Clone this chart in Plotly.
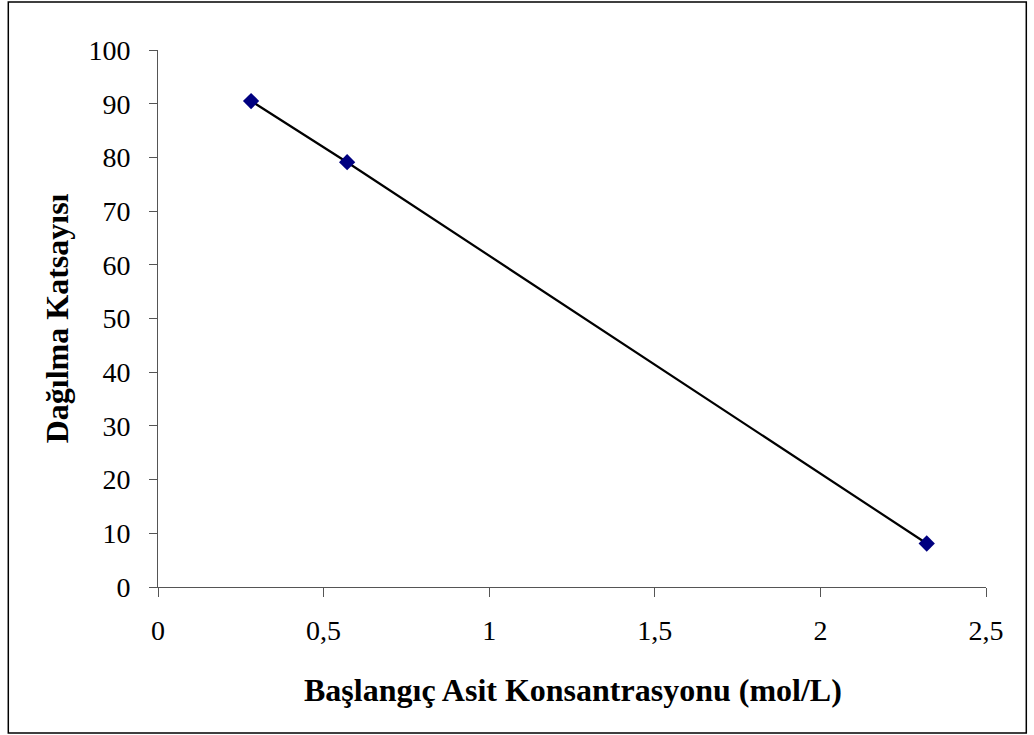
import plotly.graph_objects as go

x_conc = [0.281, 0.571, 2.321]
y_dist = [90.5, 79.1, 8.1]
x_ticks = [0, 0.5, 1, 1.5, 2, 2.5]
x_tick_labels = ["0", "0,5", "1", "1,5", "2", "2,5"]
y_ticks = [0, 10, 20, 30, 40, 50, 60, 70, 80, 90, 100]

W, H = 1034, 735
L, R, T, B = 157.7, 48.3, 50, 148
pw, ph = W - L - R, H - T - B

def px(xp):
    return (xp - L) / pw

def py(yp):
    return (H - B - yp) / ph

font = "Liberation Serif, Times New Roman, serif"

fig = go.Figure()
fig.add_trace(go.Scatter(
    x=x_conc, y=y_dist, mode="lines+markers",
    line=dict(color="black", width=2.2),
    marker=dict(symbol="diamond", size=12.5, color="#000080"),
    showlegend=False,
))

fig.update_layout(
    width=W, height=H,
    margin=dict(l=L, r=R, t=T, b=B),
    paper_bgcolor="white", plot_bgcolor="white",
    font=dict(family=font, size=28, color="black"),
    xaxis=dict(range=[0, 2.5], tickvals=x_ticks, ticktext=x_tick_labels,
               showgrid=False, zeroline=False, showline=True, linecolor="#555",
               linewidth=1, ticks="outside", ticklen=9, tickcolor="#555",
               ticklabelstandoff=9, tickfont=dict(family=font, size=28)),
    yaxis=dict(range=[0, 100], tickvals=y_ticks, showgrid=False, zeroline=False,
               showline=True, linecolor="#555", linewidth=1, ticks="outside",
               ticklen=8, tickcolor="#555", ticklabelstandoff=13,
               tickfont=dict(family=font, size=28)),
    shapes=[dict(type="rect", xref="paper", yref="paper",
                 x0=px(8), x1=px(1026), y0=py(733), y1=py(2),
                 line=dict(color="black", width=1.5), layer="below")],
    annotations=[
        dict(text="<b>Başlangıç Asit Konsantrasyonu (mol/L)</b>", xref="paper", yref="paper",
             x=px(572.5), y=py(690), showarrow=False, xanchor="center", yanchor="middle",
             font=dict(family=font, size=32)),
        dict(text="<b>Dağılma Katsayısı</b>", xref="paper", yref="paper",
             x=px(57), y=py(318), showarrow=False, textangle=-90,
             xanchor="center", yanchor="middle", font=dict(family=font, size=32)),
    ],
)

fig.write_html("out.html")
